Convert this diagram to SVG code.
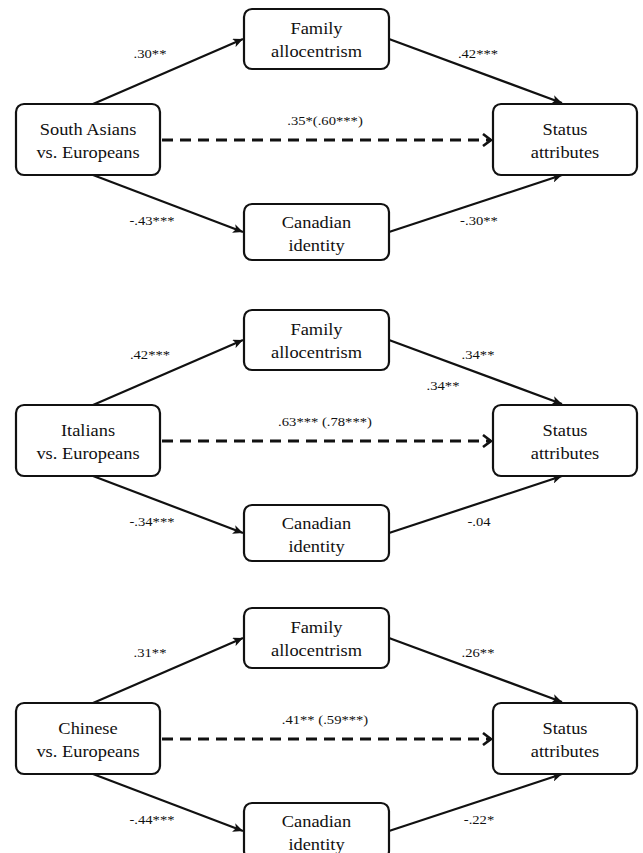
<svg xmlns="http://www.w3.org/2000/svg" width="643" height="853" viewBox="0 0 643 853">
<defs>
<style>
.box{fill:#fff;stroke:#111;stroke-width:2.2}
.t{font-family:"Liberation Serif","Times New Roman",serif;font-size:16px;fill:#111;text-anchor:middle}
.l{font-family:"Liberation Serif","Times New Roman",serif;font-size:12.5px;fill:#111;text-anchor:middle}
.a{stroke:#111;stroke-width:2.2;fill:none;marker-end:url(#ah)}
.d{stroke:#111;stroke-width:3;fill:none;stroke-dasharray:11 7;marker-end:url(#ch)}
</style>
<marker id="ah" markerUnits="userSpaceOnUse" markerWidth="11" markerHeight="9" refX="10" refY="4.5" orient="auto">
<path d="M0,0 L10,4.5 L0,9 L2.5,4.5 z" fill="#111"/>
</marker>
<marker id="ch" markerUnits="userSpaceOnUse" markerWidth="12" markerHeight="14" refX="10" refY="7" orient="auto">
<path d="M2,1 L10,7 L2,13" fill="none" stroke="#111" stroke-width="2.6"/>
</marker>
</defs>
<rect width="643" height="853" fill="#fff"/>

<!-- Panel 1 -->
<g id="panel1">
<g id="p1-connectors">
<line class="a" x1="93" y1="104" x2="243" y2="39"/>
<line class="a" x1="389" y1="39" x2="562" y2="103"/>
<line class="a" x1="93" y1="175" x2="243" y2="232"/>
<line class="a" x1="389" y1="232" x2="562" y2="175"/>
<line class="d" x1="162" y1="140" x2="491" y2="140"/>
<text class="l" transform="matrix(1.17 0 0 1 150 58)">.30**</text>
<text class="l" transform="matrix(1.17 0 0 1 478 58)">.42***</text>
<text class="l" transform="matrix(1.17 0 0 1 325 125)">.35*(.60***)</text>
<text class="l" transform="matrix(1.17 0 0 1 152 225)">-.43***</text>
<text class="l" transform="matrix(1.17 0 0 1 479 225)">-.30**</text>
</g>
<g id="p1-family"><rect class="box" x="244" y="9" width="145" height="60" rx="8"/>
<text class="t" transform="matrix(1.15 0 0 1 316.5 34)">Family</text>
<text class="t" transform="matrix(1.15 0 0 1 316.5 57)">allocentrism</text></g>
<g id="p1-group"><rect class="box" x="16" y="104" width="144" height="71" rx="8"/>
<text class="t" transform="matrix(1.15 0 0 1 88 135)">South Asians</text>
<text class="t" transform="matrix(1.15 0 0 1 88 158)">vs. Europeans</text></g>
<g id="p1-status"><rect class="box" x="493" y="104" width="144" height="71" rx="8"/>
<text class="t" transform="matrix(1.15 0 0 1 565 135)">Status</text>
<text class="t" transform="matrix(1.15 0 0 1 565 158)">attributes</text></g>
<g id="p1-canadian"><rect class="box" x="244" y="204" width="145" height="56" rx="8"/>
<text class="t" transform="matrix(1.15 0 0 1 316.5 228)">Canadian</text>
<text class="t" transform="matrix(1.15 0 0 1 316.5 251)">identity</text></g>
</g>

<!-- Panel 2 -->
<g id="panel2" transform="translate(0,301)">
<g id="p2-connectors">
<line class="a" x1="93" y1="104" x2="243" y2="39"/>
<line class="a" x1="389" y1="39" x2="562" y2="103"/>
<line class="a" x1="93" y1="175" x2="243" y2="232"/>
<line class="a" x1="389" y1="232" x2="562" y2="175"/>
<line class="d" x1="162" y1="140" x2="491" y2="140"/>
<text class="l" transform="matrix(1.17 0 0 1 150 58)">.42***</text>
<text class="l" transform="matrix(1.17 0 0 1 478 58)">.34**</text>
<text class="l" transform="matrix(1.17 0 0 1 443 89)">.34**</text>
<text class="l" transform="matrix(1.17 0 0 1 325 125)">.63*** (.78***)</text>
<text class="l" transform="matrix(1.17 0 0 1 152 225)">-.34***</text>
<text class="l" transform="matrix(1.17 0 0 1 479 225)">-.04</text>
</g>
<g id="p2-family"><rect class="box" x="244" y="9" width="145" height="60" rx="8"/>
<text class="t" transform="matrix(1.15 0 0 1 316.5 34)">Family</text>
<text class="t" transform="matrix(1.15 0 0 1 316.5 57)">allocentrism</text></g>
<g id="p2-group"><rect class="box" x="16" y="104" width="144" height="71" rx="8"/>
<text class="t" transform="matrix(1.15 0 0 1 88 135)">Italians</text>
<text class="t" transform="matrix(1.15 0 0 1 88 158)">vs. Europeans</text></g>
<g id="p2-status"><rect class="box" x="493" y="104" width="144" height="71" rx="8"/>
<text class="t" transform="matrix(1.15 0 0 1 565 135)">Status</text>
<text class="t" transform="matrix(1.15 0 0 1 565 158)">attributes</text></g>
<g id="p2-canadian"><rect class="box" x="244" y="204" width="145" height="56" rx="8"/>
<text class="t" transform="matrix(1.15 0 0 1 316.5 228)">Canadian</text>
<text class="t" transform="matrix(1.15 0 0 1 316.5 251)">identity</text></g>
</g>

<!-- Panel 3 -->
<g id="panel3" transform="translate(0,599)">
<g id="p3-connectors">
<line class="a" x1="93" y1="104" x2="243" y2="39"/>
<line class="a" x1="389" y1="39" x2="562" y2="103"/>
<line class="a" x1="93" y1="175" x2="243" y2="232"/>
<line class="a" x1="389" y1="232" x2="562" y2="175"/>
<line class="d" x1="162" y1="140" x2="491" y2="140"/>
<text class="l" transform="matrix(1.17 0 0 1 150 58)">.31**</text>
<text class="l" transform="matrix(1.17 0 0 1 478 58)">.26**</text>
<text class="l" transform="matrix(1.17 0 0 1 325 125)">.41** (.59***)</text>
<text class="l" transform="matrix(1.17 0 0 1 152 225)">-.44***</text>
<text class="l" transform="matrix(1.17 0 0 1 479 225)">-.22*</text>
</g>
<g id="p3-family"><rect class="box" x="244" y="9" width="145" height="60" rx="8"/>
<text class="t" transform="matrix(1.15 0 0 1 316.5 34)">Family</text>
<text class="t" transform="matrix(1.15 0 0 1 316.5 57)">allocentrism</text></g>
<g id="p3-group"><rect class="box" x="16" y="104" width="144" height="71" rx="8"/>
<text class="t" transform="matrix(1.15 0 0 1 88 135)">Chinese</text>
<text class="t" transform="matrix(1.15 0 0 1 88 158)">vs. Europeans</text></g>
<g id="p3-status"><rect class="box" x="493" y="104" width="144" height="71" rx="8"/>
<text class="t" transform="matrix(1.15 0 0 1 565 135)">Status</text>
<text class="t" transform="matrix(1.15 0 0 1 565 158)">attributes</text></g>
<g id="p3-canadian"><rect class="box" x="244" y="204" width="145" height="56" rx="8"/>
<text class="t" transform="matrix(1.15 0 0 1 316.5 228)">Canadian</text>
<text class="t" transform="matrix(1.15 0 0 1 316.5 251)">identity</text></g>
</g>
</svg>
